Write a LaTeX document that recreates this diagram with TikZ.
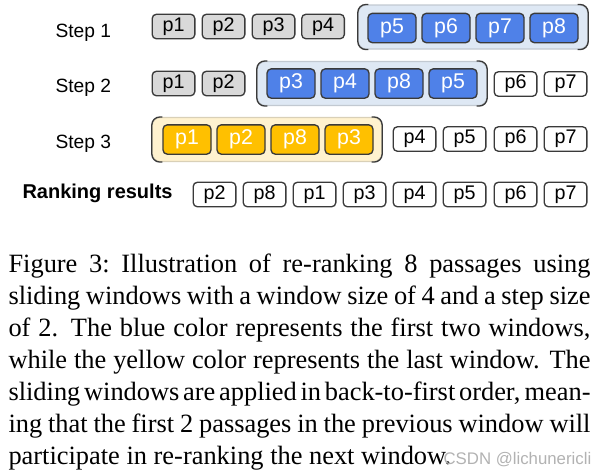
\documentclass[tikz,border=0pt]{standalone}
\usepackage{fontspec}
\setmainfont{Liberation Serif}
\setsansfont{Liberation Sans}
\usetikzlibrary{positioning}

\definecolor{boxgray}{HTML}{D9D9D9}
\definecolor{psgblue}{HTML}{4F81E8}
\definecolor{winblue}{HTML}{DEE8F4}
\definecolor{psgyellow}{HTML}{FFC000}
\definecolor{winyellow}{HTML}{FFF2CF}
\definecolor{edgegray}{HTML}{3A3A3A}

\begin{document}
\begin{tikzpicture}[x=0.375pt,y=-0.375pt,
  psg/.style={draw=edgegray,line width=0.5pt,rounded corners=1.6pt,
    minimum width=16pt,minimum height=9.2pt,inner sep=0pt,
    font=\sffamily\fontsize{7.4}{8.5}\selectfont},
  seen/.style={psg,fill=boxgray},
  ranked/.style={psg,fill=white},
  inwin/.style={psg,minimum width=18pt,minimum height=11pt,text=white,
    font=\sffamily\fontsize{8}{9}\selectfont},
  bluepsg/.style={inwin,fill=psgblue},
  yelpsg/.style={inwin,fill=psgyellow},
  winbox/.style={rounded corners=3pt,minimum width=86pt,
    minimum height=16.5pt,inner sep=0pt},
  bracket/.style={draw=edgegray,line width=0.5pt,rounded corners=3pt},
  steplbl/.style={font=\sffamily\fontsize{7.2}{8.6}\selectfont,
    anchor=base west,inner sep=0pt}]
  \useasboundingbox (0,0) rectangle (601,474);
  % Step 1
  \node[steplbl] (s1) at (55,37) {Step 1};
  \node[seen] (a1) at (173.5,26.5) {p1};
  \node[seen] (a2) at (223.5,26.5) {p2};
  \node[seen] (a3) at (273.5,26.5) {p3};
  \node[seen] (a4) at (323,26.5) {p4};
  \node[winbox,fill=winblue,draw=winblue!70!gray] (w1) at (473,27) {};
  \draw[bracket] ([xshift=4pt]w1.north west) -| (w1.south west) -- ++(4pt,0);
  \draw[bracket] ([xshift=-4pt]w1.north east) -| (w1.south east) -- ++(-4pt,0);
  \node[bluepsg] (a5) at (392,28) {p5};
  \node[bluepsg] (a6) at (446,28) {p6};
  \node[bluepsg] (a7) at (500,28) {p7};
  \node[bluepsg] (a8) at (554,28) {p8};
  % Step 2
  \node[steplbl] (s2) at (55,92) {Step 2};
  \node[seen] (b1) at (173.5,83.5) {p1};
  \node[seen] (b2) at (223.5,83.5) {p2};
  \node[winbox,fill=winblue,draw=winblue!70!gray] (w2) at (372,83.5) {};
  \draw[bracket] ([xshift=4pt]w2.north west) -| (w2.south west) -- ++(4pt,0);
  \draw[bracket] ([xshift=-4pt]w2.north east) -| (w2.south east) -- ++(-4pt,0);
  \node[bluepsg] (b3) at (291,83.5) {p3};
  \node[bluepsg] (b4) at (345,83.5) {p4};
  \node[bluepsg] (b8) at (399,83.5) {p8};
  \node[bluepsg] (b5) at (453,83.5) {p5};
  \node[ranked] (b6) at (515.5,84) {p6};
  \node[ranked] (b7) at (565.5,84) {p7};
  % Step 3
  \node[steplbl] (s3) at (55,148) {Step 3};
  \node[winbox,fill=winyellow,draw=winyellow!70!gray] (w3) at (267,139.5) {};
  \draw[bracket] ([xshift=4pt]w3.north west) -| (w3.south west) -- ++(4pt,0);
  \draw[bracket] ([xshift=-4pt]w3.north east) -| (w3.south east) -- ++(-4pt,0);
  \node[yelpsg] (c1) at (187,139.5) {p1};
  \node[yelpsg] (c2) at (241,139.5) {p2};
  \node[yelpsg] (c8) at (295,139.5) {p8};
  \node[yelpsg] (c3) at (349,139.5) {p3};
  \node[ranked] (c4) at (414.5,139) {p4};
  \node[ranked] (c5) at (464.5,139) {p5};
  \node[ranked] (c6) at (515.5,139) {p6};
  \node[ranked] (c7) at (565.5,139) {p7};
  % final ranking
  \node[steplbl,font=\sffamily\bfseries\fontsize{7.5}{9}\selectfont]
       (rk) at (22,198) {Ranking results};
  \node[ranked] (d2) at (214.5,194.5) {p2};
  \node[ranked] (d8) at (264.5,194.5) {p8};
  \node[ranked] (d1) at (314.5,194.5) {p1};
  \node[ranked] (d3) at (364.5,194.5) {p3};
  \node[ranked] (d4) at (414.5,194.5) {p4};
  \node[ranked] (d5) at (464.5,194.5) {p5};
  \node[ranked] (d6) at (515.5,194.5) {p6};
  \node[ranked] (d7) at (565.5,194.5) {p7};
  % caption
  \node[anchor=north west,inner sep=0pt,text width=218.25pt,align=justify,
        font=\fontsize{9.9}{12}\selectfont] (cap) at (8,253)
       {\spaceskip=0.25em plus 0.3em minus 0.16em\relax
        Figure 3:\ Illustration of re-ranking 8 passages using\linebreak
        sliding windows with a window size of 4 and a step size\linebreak
        of 2. The blue color represents the first two windows,\linebreak
        while the yellow color represents the last window. The\linebreak
        sliding windows are applied in back-to-first order, mean-\linebreak
        ing that the first 2 passages in the previous window will\linebreak
        participate in re-ranking the next window.};
  \node[anchor=base west,inner sep=0pt,text=gray!60,
        font=\sffamily\fontsize{6.3}{7}\selectfont] (wm) at (443,464)
       {CSDN @lichunericli};
\end{tikzpicture}
\end{document}
